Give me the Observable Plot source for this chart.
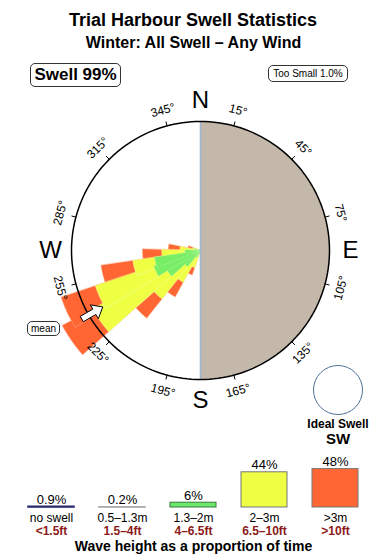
<!DOCTYPE html>
<html><head><meta charset="utf-8">
<script src="https://cdn.jsdelivr.net/npm/d3@7"></script>
<script src="https://cdn.jsdelivr.net/npm/@observablehq/plot@0.6"></script>
<style>
body{margin:0;background:#fff;font-family:"Liberation Sans",Arial,Helvetica,sans-serif;color:#000;}
#wrap{position:relative;width:390px;height:560px;overflow:hidden;}
.abs{position:absolute;}
.title{left:0;width:386px;text-align:center;top:9px;font-size:18px;font-weight:bold;line-height:22px;}
.subtitle{left:0;width:387px;text-align:center;top:33px;font-size:16px;font-weight:bold;line-height:20px;}
.box{border:1px solid #333;border-radius:5px;background:#fff;text-align:center;box-sizing:border-box;}
#swell{left:30px;top:63px;width:91px;height:24px;font-size:17px;font-weight:bold;line-height:22px;}
#small{left:268px;top:65px;width:80px;height:17px;font-size:10px;line-height:15px;}
#mean{left:27px;top:321px;width:33px;height:15px;font-size:10px;line-height:13px;}
#ideal{left:313px;top:365px;width:50px;height:50px;border:1px solid #4f6f95;border-radius:50%;box-sizing:border-box;}
#idealTxt{left:288px;width:100px;top:417px;text-align:center;font-weight:bold;font-size:12px;line-height:14px;}
#idealDir{left:288px;width:100px;top:430px;text-align:center;font-weight:bold;font-size:15px;line-height:18px;}
#rose{left:0;top:50px;}
#legend{left:0;top:450px;}
.caption{left:0;width:387px;text-align:center;top:537px;font-size:14px;font-weight:bold;line-height:18px;}
</style></head><body><div id="wrap">
<div class="abs title">Trial Harbour Swell Statistics</div>
<div class="abs subtitle">Winter: All Swell – Any Wind</div>
<div class="abs" id="rose"></div>
<div class="abs" id="legend"></div>
<div class="abs box" id="swell">Swell 99%</div>
<div class="abs box" id="small">Too Small 1.0%</div>
<div class="abs box" id="mean">mean</div>
<div class="abs" id="ideal"></div>
<div class="abs" id="idealTxt">Ideal Swell</div>
<div class="abs" id="idealDir">SW</div>
<div class="abs caption">Wave height as a proportion of time</div>
</div>
<script>
// ---- rose data (bearing the swell comes from, outer radius of each band as fraction of ring radius)
const petalDirs = [205, 215, 225, 235, 245, 255, 265, 275, 285];
const greenR    = [0.03, 0.06, 0.16, 0.30, 0.38, 0.36, 0.12, 0.05, 0.02];
const yellowR   = [0.14, 0.28, 0.48, 0.95, 0.86, 0.53, 0.30, 0.16, 0.06];
const orangeR   = [0.20, 0.41, 0.67, 1.22, 1.14, 0.78, 0.45, 0.25, 0.10];
const meanDir = 240;
const tickDegs = [15, 45, 75, 105, 135, 165, 195, 225, 255, 285, 315, 345];
const compassLabels = ["N", "E", "S", "W"];
const compassDegs = [0, 90, 180, 270];

// ---- legend data
const legendCats  = ["no swell", "0.5–1.3m", "1.3–2m", "2–3m", ">3m"];
const legendFt    = ["<1.5ft", "1.5–4ft", "4–6.5ft", "6.5–10ft", ">10ft"];
const legendPct   = [0.9, 0.2, 6, 44, 48];
const legendLabel = ["0.9%", "0.2%", "6%", "44%", "48%"];
const legendFill  = ["#2b2e6e", "#b4b4b4", "#6ce86c", "#eeff44", "#ff6633"];
const legendStroke= ["#2b2e6e", "#a8a8a8", "#3d7a3d", "#777777", "#777777"];

const FONT = '"Liberation Sans", Arial, Helvetica, sans-serif';
const rad = d => d * Math.PI / 180;
const px = (r, b) => r * Math.sin(rad(b));
const py = (r, b) => r * Math.cos(rad(b));
const HW = 6.5;

function wedge(id, b, r) {
  const pts = [{id, x: 0, y: 0}];
  for (let k = 0; k <= 8; k++) {
    const a = b - HW + (2 * HW) * k / 8;
    pts.push({id, x: px(r, a), y: py(r, a)});
  }
  return pts;
}
const bandPolys = (radii, key) => petalDirs.flatMap((b, i) => wedge(key + i, b, radii[i]));

const halfDisc = d3.range(0, 181, 2).map(a => ({x: px(1, a), y: py(1, a)}));
const ring = d3.range(0, 361, 2).map(a => ({x: px(1, a), y: py(1, a)}));

// mean arrow outline in (along, across) coordinates
const arrowShape = [[1.06, 0.024], [0.95, 0.024], [0.95, 0.062], [0.875, 0], [0.95, -0.062], [0.95, -0.024], [1.06, -0.024]];
const sb = Math.sin(rad(meanDir)), cb = Math.cos(rad(meanDir));
const arrowPts = arrowShape.map(([u, v]) => ({x: u * sb + v * cb, y: u * cb - v * sb}));

const R = 129, W = 390, H = 400, CX = 200, CY = 200;
const rose = Plot.plot({
  width: W, height: H, margin: 0,
  x: {domain: [-CX / R, (W - CX) / R], axis: null},
  y: {domain: [-(H - CY) / R, CY / R], axis: null},
  style: {fontFamily: FONT, background: "none", overflow: "visible"},
  marks: [
    Plot.line(halfDisc, {x: "x", y: "y", fill: "#c4b8ab", stroke: "none", curve: "linear-closed"}),
    Plot.line(bandPolys(orangeR, "o"), {x: "x", y: "y", z: "id", fill: "#ff6633", stroke: "#ffb090", strokeWidth: 0.5, curve: "linear-closed"}),
    Plot.line(bandPolys(yellowR, "y"), {x: "x", y: "y", z: "id", fill: "#eeff44", stroke: "#f8ffb0", strokeWidth: 0.5, curve: "linear-closed"}),
    Plot.line(bandPolys(greenR, "g"), {x: "x", y: "y", z: "id", fill: "#77ee66", stroke: "#a8f49a", strokeWidth: 0.5, curve: "linear-closed"}),
    Plot.ruleX([0], {y1: -1, y2: 1, stroke: "#9fb8d0", strokeWidth: 1.6}),
    Plot.line(ring, {x: "x", y: "y", stroke: "#000", strokeWidth: 1.5}),
    Plot.link(tickDegs, {x1: d => px(1, d), y1: d => py(1, d), x2: d => px(1.035, d), y2: d => py(1.035, d), stroke: "#000", strokeWidth: 1}),
    Plot.text(tickDegs, {x: d => px(1.125, d), y: d => py(1.125, d), text: d => d + "°", rotate: d => ((d + 90) % 180) - 90, fontSize: 12, fill: "#000"}),
    Plot.text(compassDegs, {x: d => px(1.163, d), y: d => py(1.163, d), text: (d, i) => compassLabels[i], fontSize: 24, fill: "#000"}),
    Plot.line(arrowPts, {x: "x", y: "y", fill: "#fff", stroke: "#000", strokeWidth: 1, curve: "linear-closed"})
  ]
});
document.getElementById("rose").appendChild(rose);

const legendData = legendCats.map((c, i) => ({cat: c, ft: legendFt[i], pct: legendPct[i], label: legendLabel[i], fill: legendFill[i], stroke: legendStroke[i], sw: legendPct[i] < 1 ? 1.6 : 1}));
const legend = Plot.plot({
  width: 390, height: 86, marginTop: 9, marginBottom: 29, marginLeft: 15.5, marginRight: 19.5,
  x: {domain: legendCats, paddingInner: 0.35, paddingOuter: 0.175, axis: null},
  y: {domain: [0, 60], axis: null},
  color: {type: "identity"},
  style: {fontFamily: FONT, background: "none", overflow: "visible"},
  marks: [
    Plot.barY(legendData, {x: "cat", y: "pct", fill: "fill", stroke: "stroke", strokeWidth: "sw"}),
    Plot.text(legendData, {x: "cat", y: "pct", text: "label", lineAnchor: "bottom", dy: -3, fontSize: 13, fill: "#000"}),
    Plot.text(legendData, {x: "cat", y: 0, text: "cat", dy: 10.5, fontSize: 12, fill: "#000"}),
    Plot.text(legendData, {x: "cat", y: 0, text: "ft", dy: 23.5, fontSize: 12, fontWeight: "bold", fill: "#8b1a1a"})
  ]
});
document.getElementById("legend").appendChild(legend);
</script>
</body></html>
